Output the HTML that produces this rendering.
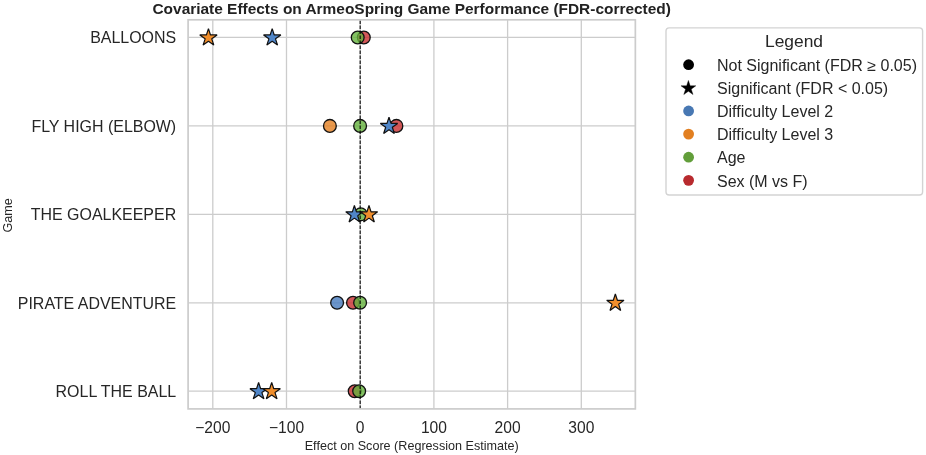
<!DOCTYPE html>
<html><head><meta charset="utf-8"><title>Covariate Effects</title>
<style>html,body{margin:0;padding:0;background:#fff;}svg{display:block;will-change:transform;}</style></head>
<body>
<svg width="926" height="455" viewBox="0 0 926 455" font-family="Liberation Sans, sans-serif">
<rect width="926" height="455" fill="#fff"/>
<line x1="212.80" x2="212.80" y1="19.8" y2="408.9" stroke="#cccccc" stroke-width="1.3"/>
<line x1="286.50" x2="286.50" y1="19.8" y2="408.9" stroke="#cccccc" stroke-width="1.3"/>
<line x1="360.20" x2="360.20" y1="19.8" y2="408.9" stroke="#cccccc" stroke-width="1.3"/>
<line x1="433.90" x2="433.90" y1="19.8" y2="408.9" stroke="#cccccc" stroke-width="1.3"/>
<line x1="507.60" x2="507.60" y1="19.8" y2="408.9" stroke="#cccccc" stroke-width="1.3"/>
<line x1="581.30" x2="581.30" y1="19.8" y2="408.9" stroke="#cccccc" stroke-width="1.3"/>
<line x1="188.1" x2="635.35" y1="37.45" y2="37.45" stroke="#cccccc" stroke-width="1.3"/>
<line x1="188.1" x2="635.35" y1="125.9" y2="125.9" stroke="#cccccc" stroke-width="1.3"/>
<line x1="188.1" x2="635.35" y1="214.35" y2="214.35" stroke="#cccccc" stroke-width="1.3"/>
<line x1="188.1" x2="635.35" y1="302.8" y2="302.8" stroke="#cccccc" stroke-width="1.3"/>
<line x1="188.1" x2="635.35" y1="391.2" y2="391.2" stroke="#cccccc" stroke-width="1.3"/>
<circle cx="363.80" cy="37.45" r="6.4" fill="#c82e30" fill-opacity="0.8" stroke="#111" stroke-width="1.3"/>
<circle cx="357.70" cy="37.45" r="6.4" fill="#64b23c" fill-opacity="0.8" stroke="#111" stroke-width="1.3"/>
<circle cx="329.90" cy="125.90" r="6.4" fill="#e37f20" fill-opacity="0.8" stroke="#111" stroke-width="1.3"/>
<circle cx="396.40" cy="125.90" r="6.4" fill="#c82e30" fill-opacity="0.8" stroke="#111" stroke-width="1.3"/>
<circle cx="360.10" cy="125.90" r="6.4" fill="#64b23c" fill-opacity="0.8" stroke="#111" stroke-width="1.3"/>
<circle cx="360.70" cy="214.35" r="6.4" fill="#64b23c" fill-opacity="0.8" stroke="#111" stroke-width="1.3"/>
<circle cx="337.10" cy="302.80" r="6.4" fill="#467abe" fill-opacity="0.8" stroke="#111" stroke-width="1.3"/>
<circle cx="353.00" cy="302.80" r="6.4" fill="#c82e30" fill-opacity="0.8" stroke="#111" stroke-width="1.3"/>
<circle cx="360.10" cy="302.80" r="6.4" fill="#64b23c" fill-opacity="0.8" stroke="#111" stroke-width="1.3"/>
<circle cx="354.70" cy="391.20" r="6.4" fill="#c82e30" fill-opacity="0.8" stroke="#111" stroke-width="1.3"/>
<circle cx="359.15" cy="391.20" r="6.4" fill="#64b23c" fill-opacity="0.8" stroke="#111" stroke-width="1.3"/>
<polygon points="208.45,28.65 210.49,34.94 217.10,34.94 211.76,38.82 213.80,45.11 208.45,41.23 203.10,45.11 205.14,38.82 199.80,34.94 206.41,34.94" fill="#f08e2c" stroke="#111" stroke-width="1.2" stroke-linejoin="bevel" fill-opacity="1"/>
<polygon points="272.20,28.65 274.24,34.94 280.85,34.94 275.51,38.82 277.55,45.11 272.20,41.23 266.85,45.11 268.89,38.82 263.55,34.94 270.16,34.94" fill="#5086c8" stroke="#111" stroke-width="1.2" stroke-linejoin="bevel" fill-opacity="1"/>
<polygon points="389.00,117.10 391.04,123.39 397.65,123.39 392.31,127.27 394.35,133.56 389.00,129.68 383.65,133.56 385.69,127.27 380.35,123.39 386.96,123.39" fill="#5086c8" stroke="#111" stroke-width="1.2" stroke-linejoin="bevel" fill-opacity="1"/>
<polygon points="354.40,205.55 356.44,211.84 363.05,211.84 357.71,215.72 359.75,222.01 354.40,218.13 349.05,222.01 351.09,215.72 345.75,211.84 352.36,211.84" fill="#5086c8" stroke="#111" stroke-width="1.2" stroke-linejoin="bevel" fill-opacity="1"/>
<polygon points="369.00,205.55 371.04,211.84 377.65,211.84 372.31,215.72 374.35,222.01 369.00,218.13 363.65,222.01 365.69,215.72 360.35,211.84 366.96,211.84" fill="#f08e2c" stroke="#111" stroke-width="1.2" stroke-linejoin="bevel" fill-opacity="1"/>
<polygon points="615.35,294.00 617.39,300.29 624.00,300.29 618.66,304.17 620.70,310.46 615.35,306.58 610.00,310.46 612.04,304.17 606.70,300.29 613.31,300.29" fill="#f08e2c" stroke="#111" stroke-width="1.2" stroke-linejoin="bevel" fill-opacity="1"/>
<polygon points="258.60,382.40 260.64,388.69 267.25,388.69 261.91,392.57 263.95,398.86 258.60,394.98 253.25,398.86 255.29,392.57 249.95,388.69 256.56,388.69" fill="#5086c8" stroke="#111" stroke-width="1.2" stroke-linejoin="bevel" fill-opacity="1"/>
<polygon points="271.70,382.40 273.74,388.69 280.35,388.69 275.01,392.57 277.05,398.86 271.70,394.98 266.35,398.86 268.39,392.57 263.05,388.69 269.66,388.69" fill="#f08e2c" stroke="#111" stroke-width="1.2" stroke-linejoin="bevel" fill-opacity="1"/>
<line x1="360.2" x2="360.2" y1="408.9" y2="19.8" stroke="#000" stroke-opacity="0.85" stroke-width="1.25" stroke-dasharray="3.5,1.5"/>
<rect x="188.1" y="19.8" width="447.25" height="389.09999999999997" fill="none" stroke="#cccccc" stroke-width="1.7"/>
<text x="411.7" y="14.0" text-anchor="middle" font-size="15.44" font-weight="bold" fill="#222">Covariate Effects on ArmeoSpring Game Performance (FDR-corrected)</text>
<text x="176.2" y="43.4" text-anchor="end" font-size="15.96" fill="#262626">BALLOONS</text>
<text x="176.2" y="131.8" text-anchor="end" font-size="15.96" fill="#262626">FLY HIGH (ELBOW)</text>
<text x="176.2" y="220.2" text-anchor="end" font-size="15.96" fill="#262626">THE GOALKEEPER</text>
<text x="176.2" y="308.7" text-anchor="end" font-size="15.96" fill="#262626">PIRATE ADVENTURE</text>
<text x="176.2" y="397.1" text-anchor="end" font-size="15.96" fill="#262626">ROLL THE BALL</text>
<text x="212.8" y="433.2" text-anchor="middle" font-size="15.6" fill="#262626">−200</text>
<text x="286.5" y="433.2" text-anchor="middle" font-size="15.6" fill="#262626">−100</text>
<text x="360.2" y="433.2" text-anchor="middle" font-size="15.6" fill="#262626">0</text>
<text x="433.9" y="433.2" text-anchor="middle" font-size="15.6" fill="#262626">100</text>
<text x="507.6" y="433.2" text-anchor="middle" font-size="15.6" fill="#262626">200</text>
<text x="581.3" y="433.2" text-anchor="middle" font-size="15.6" fill="#262626">300</text>
<text x="411.7" y="449.7" text-anchor="middle" font-size="12.6" fill="#262626">Effect on Score (Regression Estimate)</text>
<text transform="translate(12,215.3) rotate(-90)" text-anchor="middle" font-size="12.6" fill="#262626">Game</text>
<rect x="666.0" y="27.9" width="256.6" height="167.1" rx="3.2" ry="3.2" fill="#fff" stroke="#d3d3d3" stroke-width="1.4"/>
<text x="794" y="47.0" text-anchor="middle" font-size="17.4" fill="#262626">Legend</text>
<circle cx="688.6" cy="64.70" r="5.4" fill="#000"/>
<text x="717.0" y="70.90" font-size="16" fill="#262626">Not Significant (FDR ≥ 0.05)</text>
<polygon points="688.40,80.43 690.15,85.82 695.82,85.82 691.23,89.15 692.98,94.54 688.40,91.21 683.82,94.54 685.57,89.15 680.98,85.82 686.65,85.82" fill="#000" stroke="#000" stroke-width="0.4" stroke-linejoin="miter" fill-opacity="1"/>
<text x="717.0" y="94.03" font-size="16" fill="#262626">Significant (FDR &lt; 0.05)</text>
<circle cx="688.6" cy="110.96" r="5.4" fill="#4878b3"/>
<text x="717.0" y="117.16" font-size="16" fill="#262626">Difficulty Level 2</text>
<circle cx="688.6" cy="134.09" r="5.4" fill="#e27f20"/>
<text x="717.0" y="140.29" font-size="16" fill="#262626">Difficulty Level 3</text>
<circle cx="688.6" cy="157.22" r="5.4" fill="#629e3a"/>
<text x="717.0" y="163.42" font-size="16" fill="#262626">Age</text>
<circle cx="688.6" cy="180.35" r="5.4" fill="#b82a2e"/>
<text x="717.0" y="186.55" font-size="16" fill="#262626">Sex (M vs F)</text>
</svg>
</body></html>
